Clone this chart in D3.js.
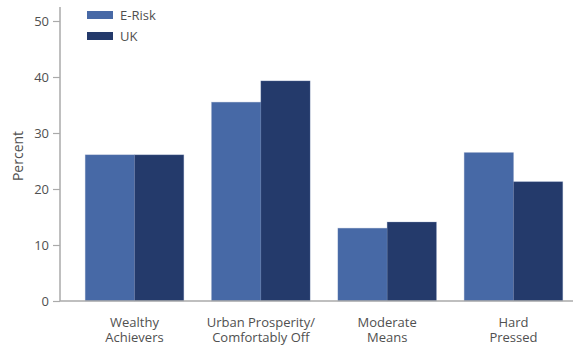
<!DOCTYPE html>
<html>
<head>
<meta charset="utf-8">
<script src="https://cdn.jsdelivr.net/npm/d3@7/dist/d3.min.js"></script>
<style>
  html, body { margin: 0; padding: 0; background: #fff; }
  svg { display: block; font-family: "Open Sans", "Noto Sans", sans-serif; }
</style>
</head>
<body>
<svg id="chart" width="573" height="350"></svg>
<script>
// Neighbourhood classification shares, E-Risk sample vs UK population
const categories = [
  ["Wealthy", "Achievers"],
  ["Urban Prosperity/", "Comfortably Off"],
  ["Moderate", "Means"],
  ["Hard", "Pressed"]
];
const seriesNames = ["E-Risk", "UK"];
const eRiskValues = [26.1, 35.5, 13.0, 26.5];
const ukValues = [26.1, 39.3, 14.1, 21.3];
const yTicks = [0, 10, 20, 30, 40, 50];
const seriesColors = ["#4769a6", "#243a6b"];

const svg = d3.select("#chart");
const plotLeft = 60, plotBottom = 301, plotTop = 21;

const y = d3.scaleLinear().domain([0, 50]).range([plotBottom, plotTop]);
const x0 = d3.scaleBand()
  .domain(d3.range(categories.length))
  .range([plotLeft, 588])
  .paddingInner(0.22)
  .paddingOuter(0.2);
const x1 = d3.scaleBand()
  .domain(seriesNames)
  .range([0, x0.bandwidth()]);

const rows = categories.map((c, i) => ({ i, values: [eRiskValues[i], ukValues[i]] }));

// Bars
const groups = svg.append("g").selectAll("g")
  .data(rows).join("g")
  .attr("transform", d => `translate(${x0(d.i)},0)`);
groups.selectAll("rect")
  .data(d => d.values.map((v, k) => ({ k, v })))
  .join("rect")
  .attr("x", d => x1(seriesNames[d.k]))
  .attr("y", d => y(d.v))
  .attr("width", x1.bandwidth())
  .attr("height", d => y(0) - y(d.v))
  .attr("fill", d => seriesColors[d.k])
  .attr("stroke", "#6f86b4")
  .attr("stroke-opacity", 0.35)
  .attr("stroke-width", 0.8);

// Y axis
const yAxis = svg.append("g")
  .attr("transform", `translate(${plotLeft},0)`)
  .call(d3.axisLeft(y).tickValues(yTicks).tickSize(7).tickPadding(4).tickSizeOuter(0));
yAxis.select(".domain").remove();
yAxis.selectAll(".tick line").attr("stroke", "#aaa").attr("stroke-width", 1.2);
yAxis.selectAll(".tick text")
  .attr("fill", "#505050").style("font-size", "13px")
  .style("font-family", "'Open Sans', sans-serif");

svg.append("line")
  .attr("x1", plotLeft).attr("x2", plotLeft)
  .attr("y1", 7).attr("y2", plotBottom)
  .attr("stroke", "#aaa").attr("stroke-width", 1.5);
svg.append("line")
  .attr("x1", plotLeft).attr("x2", 573)
  .attr("y1", plotBottom).attr("y2", plotBottom)
  .attr("stroke", "#aaa").attr("stroke-width", 1.5);

// Y axis title
svg.append("text")
  .attr("transform", "translate(23,156) rotate(-90)")
  .attr("text-anchor", "middle")
  .attr("fill", "#505050")
  .style("font-size", "14px")
  .text("Percent");

// Category labels, one text element per line
const labelLines = categories.flatMap((lines, i) =>
  lines.map((t, j) => ({ t, i, j })));
svg.append("g").selectAll("text")
  .data(labelLines).join("text")
  .attr("x", d => x0(d.i) + x0.bandwidth() / 2)
  .attr("y", d => 327 + d.j * 15)
  .attr("text-anchor", "middle")
  .attr("fill", "#505050")
  .style("font-size", "13px")
  .text(d => d.t);

// Legend
const legend = svg.append("g").selectAll("g")
  .data(seriesNames).join("g")
  .attr("transform", (d, i) => `translate(87,${11 + i * 21})`);
legend.append("rect")
  .attr("width", 26).attr("height", 8)
  .attr("fill", (d, i) => seriesColors[i]);
legend.append("text")
  .attr("x", 33).attr("y", 9)
  .attr("fill", "#505050")
  .style("font-size", "13px")
  .text(d => d);
</script>
</body>
</html>
